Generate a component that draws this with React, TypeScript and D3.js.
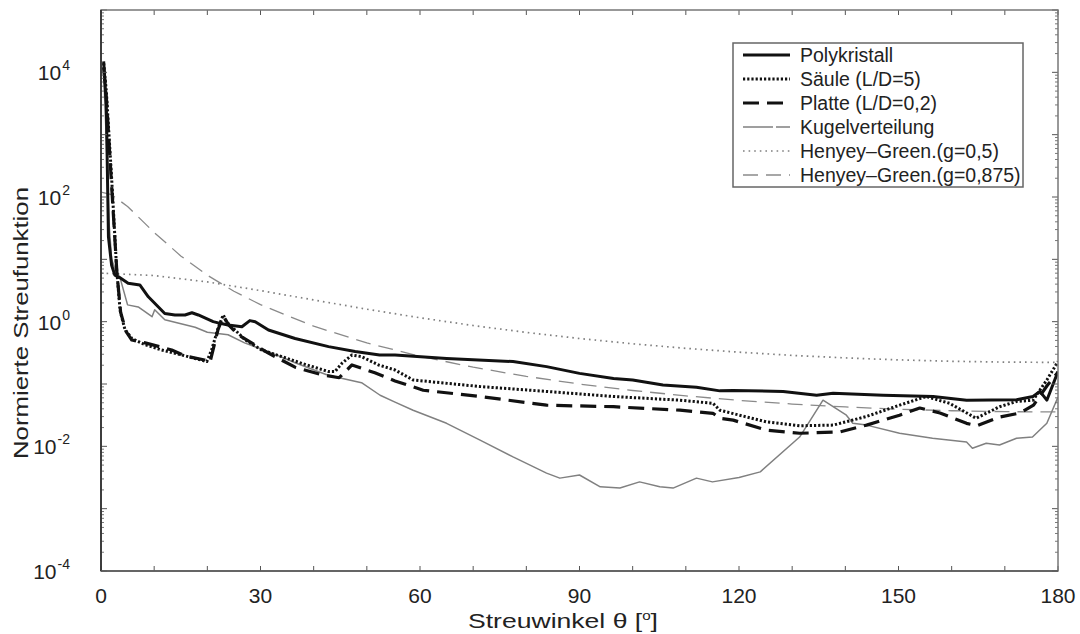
import * as d3 from "d3";
import React from "react";

// Streuwinkel (deg) and normierte Streufunktion
const polyAngles = [0.5, 1, 1.4, 2, 2.6, 3.3, 5.1, 7.3, 8.9, 12, 13.9, 15.8, 17.1, 18.3, 21.1, 22.4, 23.9, 26.5, 28, 29, 31.5, 36.5, 42.8, 47.8, 52.4, 55.3, 65, 77.5, 83.8, 90, 96.4, 100, 105.7, 112, 116.4, 118.9, 128.3, 134.6, 137.7, 147.1, 156.5, 162.8, 172.2, 175.3, 176.6, 177.9, 180];
const polyValues = [15000, 3000, 23, 8, 5.6, 5.25, 4.12, 3.89, 2.51, 1.35, 1.28, 1.28, 1.39, 1.28, 1.0, 0.94, 0.885, 0.83, 1.04, 1.0, 0.736, 0.537, 0.398, 0.331, 0.292, 0.292, 0.257, 0.229, 0.19, 0.148, 0.123, 0.116, 0.0966, 0.089, 0.0776, 0.079, 0.076, 0.066, 0.071, 0.066, 0.063, 0.055, 0.056, 0.063, 0.076, 0.055, 0.158];

const saeuleAngles = [0.5, 1, 2, 2.95, 3.6, 4.5, 5.8, 8.3, 11.4, 15.2, 17.7, 19.9, 20.8, 22.1, 23, 23.6, 25.2, 27.1, 30.2, 34, 37.8, 42.8, 44, 45.3, 47.2, 49, 52.2, 55.3, 58.7, 71.3, 83.8, 96.4, 108.9, 115.1, 116.4, 120.1, 125.1, 131.4, 137.7, 143.9, 150.2, 155.2, 159.6, 164.6, 169, 172.2, 175.3, 177.9, 180];
const saeuleValues = [14000, 5000, 200, 6.8, 1.5, 0.75, 0.537, 0.427, 0.351, 0.292, 0.257, 0.229, 0.351, 0.83, 1.28, 1.0, 0.736, 0.513, 0.351, 0.275, 0.214, 0.158, 0.158, 0.214, 0.292, 0.275, 0.202, 0.168, 0.116, 0.091, 0.076, 0.063, 0.055, 0.049, 0.038, 0.0316, 0.0248, 0.0214, 0.0219, 0.03, 0.0457, 0.063, 0.049, 0.0282, 0.0432, 0.0525, 0.055, 0.116, 0.229];

const platteAngles = [0.5, 1, 2, 3, 3.7, 4.7, 5.8, 8.3, 13.3, 15.8, 19.5, 20.5, 22, 23, 24, 25.8, 31.4, 36.5, 41.6, 44.8, 47.2, 51.5, 55.3, 60.6, 71.3, 83.8, 96.4, 108.9, 115.1, 116.4, 118.9, 125.2, 131.4, 139, 144, 150.2, 154, 157.8, 162.8, 164.8, 169, 172.9, 175.4, 178, 180];
const platteValues = [12000, 4000, 150, 6, 1.4, 0.7, 0.507, 0.457, 0.351, 0.282, 0.243, 0.224, 0.741, 1.23, 0.891, 0.617, 0.316, 0.186, 0.14, 0.126, 0.202, 0.151, 0.112, 0.0794, 0.0631, 0.0457, 0.0432, 0.038, 0.0339, 0.0282, 0.0263, 0.0182, 0.0162, 0.017, 0.0219, 0.0316, 0.0412, 0.0343, 0.0234, 0.0214, 0.0295, 0.0343, 0.0457, 0.0955, 0.155];

const kugelAngles = [0.5, 1, 1.5, 2, 3, 3.6, 5, 7, 9.6, 10.1, 12, 17.7, 20, 23.9, 27, 32.1, 36.5, 42.7, 49, 52.5, 55.3, 58.7, 65, 71.3, 77.5, 83.8, 86.3, 90, 93.9, 97.6, 101.3, 105.1, 107.6, 112, 115, 120, 124, 131.4, 135.8, 140.2, 141.4, 144, 150.2, 156.4, 162.8, 163.9, 166.5, 169, 172.2, 175.2, 177.9, 180];
const kugelValues = [10000, 800, 40, 10, 5.6, 5.0, 1.86, 1.72, 1.2, 1.55, 1.07, 0.813, 0.676, 0.617, 0.457, 0.316, 0.219, 0.138, 0.105, 0.066, 0.0513, 0.038, 0.0234, 0.0126, 0.00676, 0.00372, 0.00309, 0.00347, 0.00224, 0.00214, 0.00269, 0.00224, 0.00214, 0.00309, 0.00269, 0.00316, 0.00389, 0.0141, 0.055, 0.0316, 0.0234, 0.0219, 0.0162, 0.0135, 0.0117, 0.00933, 0.0112, 0.0105, 0.0135, 0.0141, 0.0234, 0.0617];

const hg05Angles = [0, 10, 20, 30, 40, 50, 60, 70, 80, 90, 100, 110, 120, 130, 140, 150, 160, 170, 180];
const hg05Values = [6.0, 5.49, 4.34, 3.15, 2.23, 1.585, 1.155, 0.867, 0.672, 0.537, 0.4415, 0.3734, 0.324, 0.288, 0.262, 0.2437, 0.2315, 0.2245, 0.2222];

const hg0875Angles = [0, 2, 5, 10, 15, 20, 25, 30, 40, 50, 60, 70, 80, 90, 100, 110, 120, 130, 140, 150, 160, 170, 180];
const hg0875Values = [120, 108.7, 70.4, 27.0, 11.35, 5.557, 3.08, 1.874, 0.8458, 0.457, 0.2789, 0.1859, 0.1326, 0.0999, 0.0787, 0.0645, 0.0546, 0.0477, 0.0428, 0.0394, 0.0372, 0.036, 0.0356];

const seriesNames = ["Polykristall", "Säule (L/D=5)", "Platte (L/D=0,2)", "Kugelverteilung", "Henyey\u2013Green.(g=0,5)", "Henyey\u2013Green.(g=0,875)"];

const xTickLabels = [0, 30, 60, 90, 120, 150, 180];
const yLabelExponents = [-4, -2, 0, 2, 4];

const W = 1080;
const H = 634;
const left = 101, right = 1058, top = 10, bottom = 571;

const styles = [
  { stroke: "#111", width: 3, dash: "" },
  { stroke: "#111", width: 3, dash: "2.2,2" },
  { stroke: "#111", width: 3.2, dash: "16,8" },
  { stroke: "#808080", width: 1.5, dash: "" },
  { stroke: "#808080", width: 1.7, dash: "1.6,4" },
  { stroke: "#8a8a8a", width: 1.3, dash: "15,8" },
];

export default function App() {
  const x = d3.scaleLinear().domain([0, 180]).range([left, right]);
  const y = d3.scaleLog().domain([1e-4, 1e5]).range([bottom, top]);

  const series = [
    [polyAngles, polyValues],
    [saeuleAngles, saeuleValues],
    [platteAngles, platteValues],
    [kugelAngles, kugelValues],
    [hg05Angles, hg05Values],
    [hg0875Angles, hg0875Values],
  ].map(([a, v]) => a.map((t, i) => [t, v[i]] as [number, number]));

  const line = d3.line<[number, number]>().x(d => x(d[0])).y(d => y(d[1]));

  // draw order: thin ones below the thick ones
  const order = [5, 4, 3, 2, 1, 0];

  const xTicks = d3.range(0, 181, 10);
  const yMinor: number[] = [];
  for (let e = -4; e < 5; e++) {
    for (let k = 2; k < 10; k++) yMinor.push(k * Math.pow(10, e));
  }
  const yMajor = d3.range(-4, 6).map(e => Math.pow(10, e));

  const font = "'Liberation Sans', Arial, sans-serif";
  const axisCol = "#555";

  const legX = 733, legY = 43, legW = 290, legH = 144;

  return (
    <svg width={W} height={H} style={{ position: "absolute", left: 0, top: 0, background: "#fff" }}>
      <defs>
        <clipPath id="plot">
          <rect x={left} y={top} width={right - left} height={bottom - top} />
        </clipPath>
      </defs>
      <rect x={0} y={0} width={W} height={H} fill="#fff" />

      <g clipPath="url(#plot)">
        {order.map(i => (
          <path key={i} d={line(series[i]) || ""} fill="none" stroke={styles[i].stroke}
            strokeWidth={styles[i].width} strokeDasharray={styles[i].dash || undefined}
            strokeLinejoin="round" />
        ))}
      </g>

      {/* ticks */}
      {xTicks.map(t => (
        <g key={"xt" + t} stroke={axisCol} strokeWidth={1}>
          <line x1={x(t)} x2={x(t)} y1={bottom} y2={bottom - 5} />
          <line x1={x(t)} x2={x(t)} y1={top} y2={top + 5} />
        </g>
      ))}
      {yMajor.map(v => (
        <g key={"ym" + v} stroke={axisCol} strokeWidth={1}>
          <line x1={left} x2={left + 6} y1={y(v)} y2={y(v)} />
          <line x1={right} x2={right - 6} y1={y(v)} y2={y(v)} />
        </g>
      ))}
      {yMinor.map(v => (
        <g key={"yn" + v} stroke={axisCol} strokeWidth={0.8}>
          <line x1={left} x2={left + 3} y1={y(v)} y2={y(v)} />
          <line x1={right} x2={right - 3} y1={y(v)} y2={y(v)} />
        </g>
      ))}

      {/* frame */}
      <rect x={left} y={top} width={right - left} height={bottom - top} fill="none" stroke="#777" strokeWidth={1.5} />
      <line x1={left} x2={left} y1={top} y2={bottom} stroke="#333" strokeWidth={1.8} />
      <line x1={left} x2={right} y1={bottom} y2={bottom} stroke="#555" strokeWidth={1.6} />

      {/* tick labels */}
      {xTickLabels.map(t => (
        <text key={"xl" + t} x={x(t)} y={603} textAnchor="middle" fontFamily={font} fontSize={21} fill="#222">{t}</text>
      ))}
      {yLabelExponents.map(e => (
        <text key={"yl" + e} x={70} y={y(Math.pow(10, e)) + 8} textAnchor="end" fontFamily={font} fontSize={21} fill="#222">
          10
          <tspan dx={1} dy={-10} fontSize={14}>{e}</tspan>
        </text>
      ))}

      {/* axis titles */}
      <text x={563} y={628} textAnchor="middle" fontFamily={font} fontSize={21} fill="#222"
        textLength={190} lengthAdjust="spacingAndGlyphs">
        Streuwinkel θ [<tspan dy={-8} fontSize={12}>o</tspan><tspan dy={8}>]</tspan>
      </text>
      <text transform={`translate(28,323) rotate(-90)`} textAnchor="middle" fontFamily={font} fontSize={21} fill="#222"
        textLength={272} lengthAdjust="spacingAndGlyphs">
        Normierte Streufunktion
      </text>

      {/* legend */}
      <rect x={legX} y={legY} width={legW} height={legH} fill="#fff" stroke="#666" strokeWidth={1.5} />
      {seriesNames.map((name, i) => {
        const ly = 55 + i * 24;
        return (
          <g key={name}>
            <line x1={743} x2={790} y1={ly} y2={ly} stroke={styles[i].stroke} strokeWidth={styles[i].width}
              strokeDasharray={i === 3 ? "30,3,14" : styles[i].dash || undefined} />
            <text x={800} y={ly + 7} fontFamily={font} fontSize={19.5} fill="#222">{name}</text>
          </g>
        );
      })}
    </svg>
  );
}
